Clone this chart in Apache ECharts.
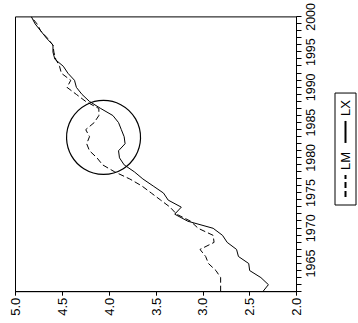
<!DOCTYPE html>
<html>
<head>
<meta charset="utf-8">
<script src="https://cdn.jsdelivr.net/npm/echarts@6/dist/echarts.min.js"></script>
<style>
  html, body { margin: 0; padding: 0; background: #fff; overflow: hidden; width: 358px; height: 323px; }
  /* The chart is laid out upright, then turned a quarter turn counter-clockwise */
  #chart { position: absolute; left: 0; top: 0; width: 323px; height: 358px;
           transform-origin: 0 0; transform: translateY(323px) rotate(-90deg); }
</style>
</head>
<body>
<div id="chart"></div>
<script>
// Annual observations
const years = [1961, 1962, 1963, 1964, 1965, 1966, 1967, 1968, 1969, 1970,
               1971, 1972, 1973, 1974, 1975, 1976, 1977, 1978, 1979, 1980,
               1981, 1982, 1983, 1984, 1985, 1986, 1987, 1988, 1989, 1990,
               1991, 1992, 1993, 1994, 1995, 1996, 1997, 1998, 1999, 2000];

const lmValues = [2.81, 2.81, 2.81, 2.86, 2.94, 2.97, 3.03, 2.88, 2.89, 3.05,
                  3.13, 3.28, 3.35, 3.45, 3.55, 3.65, 3.78, 3.94, 4.07, 4.13,
                  4.21, 4.24, 4.21, 4.25, 4.16, 4.11, 4.11, 4.25, 4.35, 4.45,
                  4.41, 4.51, 4.53, 4.57, 4.59, 4.60, 4.66, 4.73, 4.77, 4.83];

const lxValues = [2.36, 2.30, 2.38, 2.50, 2.51, 2.62, 2.64, 2.74, 2.79, 2.89,
                  3.16, 3.30, 3.23, 3.37, 3.42, 3.53, 3.64, 3.73, 3.84, 3.89,
                  3.90, 3.83, 3.84, 3.87, 3.90, 3.96, 4.09, 4.21, 4.29, 4.35,
                  4.37, 4.44, 4.49, 4.58, 4.60, 4.60, 4.67, 4.73, 4.79, 4.83];

const yearLabels = [1965, 1970, 1975, 1980, 1985, 1990, 1995, 2000];
const seriesNames = ['LM', 'LX'];

// Highlighted region (centre in data units)
const ringYear = 1982.9;
const ringValue = 4.06;

const FONT = "'Liberation Sans', Arial, sans-serif";

const chart = echarts.init(document.getElementById('chart'), null, { renderer: 'svg' });

const lmData = years.map((y, i) => [y, lmValues[i]]);
const lxData = years.map((y, i) => [y, lxValues[i]]);

chart.setOption({
  animation: false,
  backgroundColor: '#fff',
  grid: {
    left: 31.3, right: 15.6, top: 15.5, bottom: 61.5,
    show: true, borderColor: '#000', borderWidth: 1, backgroundColor: 'transparent'
  },
  xAxis: {
    type: 'value', min: 1961, max: 2000, interval: 1,
    axisLine: { show: true, lineStyle: { color: '#000', width: 1 } },
    axisTick: { show: true, length: 5, lineStyle: { color: '#000', width: 1 } },
    splitLine: { show: false },
    axisLabel: {
      margin: 8, color: '#000', fontFamily: FONT, fontSize: 12.5,
      showMinLabel: true, showMaxLabel: true, hideOverlap: false,
      formatter: v => (yearLabels.indexOf(v) >= 0 ? String(v) : '')
    }
  },
  yAxis: {
    type: 'value', min: 2, max: 5, interval: 0.5,
    axisLine: { show: true, lineStyle: { color: '#000', width: 1 } },
    axisTick: { show: true, length: 4, lineStyle: { color: '#000', width: 1 } },
    splitLine: { show: false },
    axisLabel: {
      margin: 6, color: '#000', fontFamily: FONT, fontSize: 13,
      formatter: v => v.toFixed(1)
    }
  },
  legend: {
    left: 118, top: 335,
    padding: [4, 7, 4, 7],
    borderColor: '#000', borderWidth: 1,
    itemWidth: 22, itemHeight: 13, itemGap: 8,
    itemStyle: { opacity: 0 },
    textStyle: { color: '#000', fontFamily: FONT, fontSize: 13 },
    data: seriesNames
  },
  series: [
    {
      name: seriesNames[0], type: 'line', data: lmData,
      symbol: 'none', lineStyle: { color: '#000', width: 1, type: [6, 3] },
      itemStyle: { color: '#000' }
    },
    {
      name: seriesNames[1], type: 'line', data: lxData,
      symbol: 'none', lineStyle: { color: '#000', width: 1, type: 'solid' },
      itemStyle: { color: '#000' }
    }
  ]
});

// Ring drawn around the highlighted stretch of the series
const c = chart.convertToPixel({ gridIndex: 0 }, [ringYear, ringValue]);
chart.setOption({
  graphic: [{
    type: 'circle', shape: { cx: c[0], cy: c[1], r: 37 },
    style: { fill: 'none', stroke: '#000', lineWidth: 1.2 }, z: 10
  }]
});
</script>
</body>
</html>
